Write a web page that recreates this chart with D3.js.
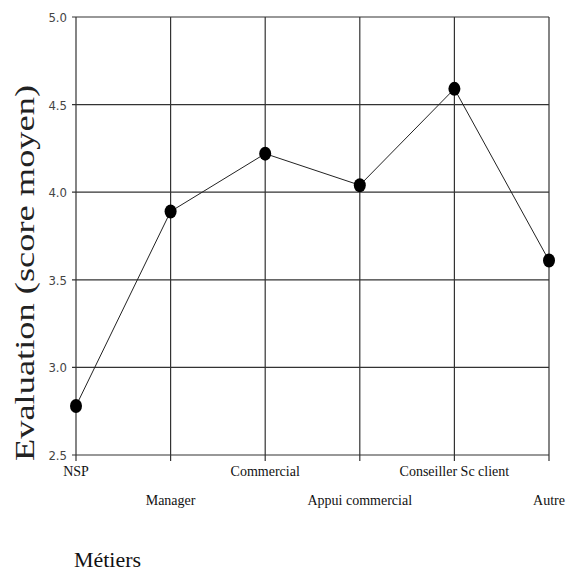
<!DOCTYPE html>
<html><head><meta charset="utf-8">
<script src="https://cdn.jsdelivr.net/npm/d3@7"></script>
<style>body{margin:0;background:#fff}svg{display:block}</style>
</head><body>
<script>
const categories = ["NSP","Manager","Commercial","Appui commercial","Conseiller Sc client","Autre"];
const values = [2.78, 3.89, 4.22, 4.04, 4.59, 3.61];
const yTicks = [2.5, 3.0, 3.5, 4.0, 4.5, 5.0];
const yTitle = "Evaluation (score moyen)";
const xTitle = "Métiers";

const W = 573, H = 572;
const m = {left: 76, right: 24, top: 17, bottom: 117};
const svg = d3.select("body").append("svg").attr("width", W).attr("height", H);

const x = d3.scalePoint().domain(categories).range([m.left, W - m.right]);
const y = d3.scaleLinear().domain([2.5, 5.0]).range([H - m.bottom, m.top]);

const grid = "#333";
svg.append("g").selectAll("line").data(yTicks).join("line")
  .attr("x1", m.left - 4).attr("x2", W - m.right)
  .attr("y1", d => y(d)).attr("y2", d => y(d))
  .attr("stroke", grid).attr("stroke-width", 1.2);
svg.append("g").selectAll("line").data(categories).join("line")
  .attr("x1", d => x(d)).attr("x2", d => x(d))
  .attr("y1", m.top).attr("y2", H - m.bottom + 6)
  .attr("stroke", grid).attr("stroke-width", 1.2);

svg.append("g").selectAll("text").data(yTicks).join("text")
  .attr("x", m.left - 9).attr("y", d => y(d) + 5)
  .attr("text-anchor", "end")
  .attr("font-family", "'Liberation Sans Narrow','DejaVu Sans Condensed',sans-serif")
  .attr("font-size", 13).attr("fill", "#444")
  .text(d => d.toFixed(1));

svg.append("g").selectAll("text").data(categories).join("text")
  .attr("x", d => x(d))
  .attr("y", (d, i) => i % 2 === 0 ? 476 : 505)
  .attr("text-anchor", "middle")
  .attr("font-family", "'Liberation Serif','Times New Roman',serif")
  .attr("font-size", 14).attr("fill", "#111")
  .text(d => d);

const line = d3.line().x((d, i) => x(categories[i])).y(d => y(d));
svg.append("path").datum(values).attr("d", line)
  .attr("fill", "none").attr("stroke", "#222").attr("stroke-width", 1);

svg.append("g").selectAll("ellipse").data(values).join("ellipse")
  .attr("cx", (d, i) => x(categories[i])).attr("cy", d => y(d))
  .attr("rx", 6).attr("ry", 7).attr("fill", "#000");

svg.append("text")
  .attr("transform", `translate(34,${(85 + 461) / 2}) rotate(-90)`)
  .attr("text-anchor", "middle")
  .attr("font-family", "'Liberation Serif','Times New Roman',serif")
  .attr("font-size", 27).attr("fill", "#222")
  .attr("textLength", 376).attr("lengthAdjust", "spacingAndGlyphs")
  .text(yTitle);

svg.append("text")
  .attr("x", 74).attr("y", 567)
  .attr("font-family", "'Liberation Serif','Times New Roman',serif")
  .attr("font-size", 21).attr("fill", "#111")
  .attr("textLength", 67).attr("lengthAdjust", "spacingAndGlyphs")
  .text(xTitle);
</script>
</body></html>
